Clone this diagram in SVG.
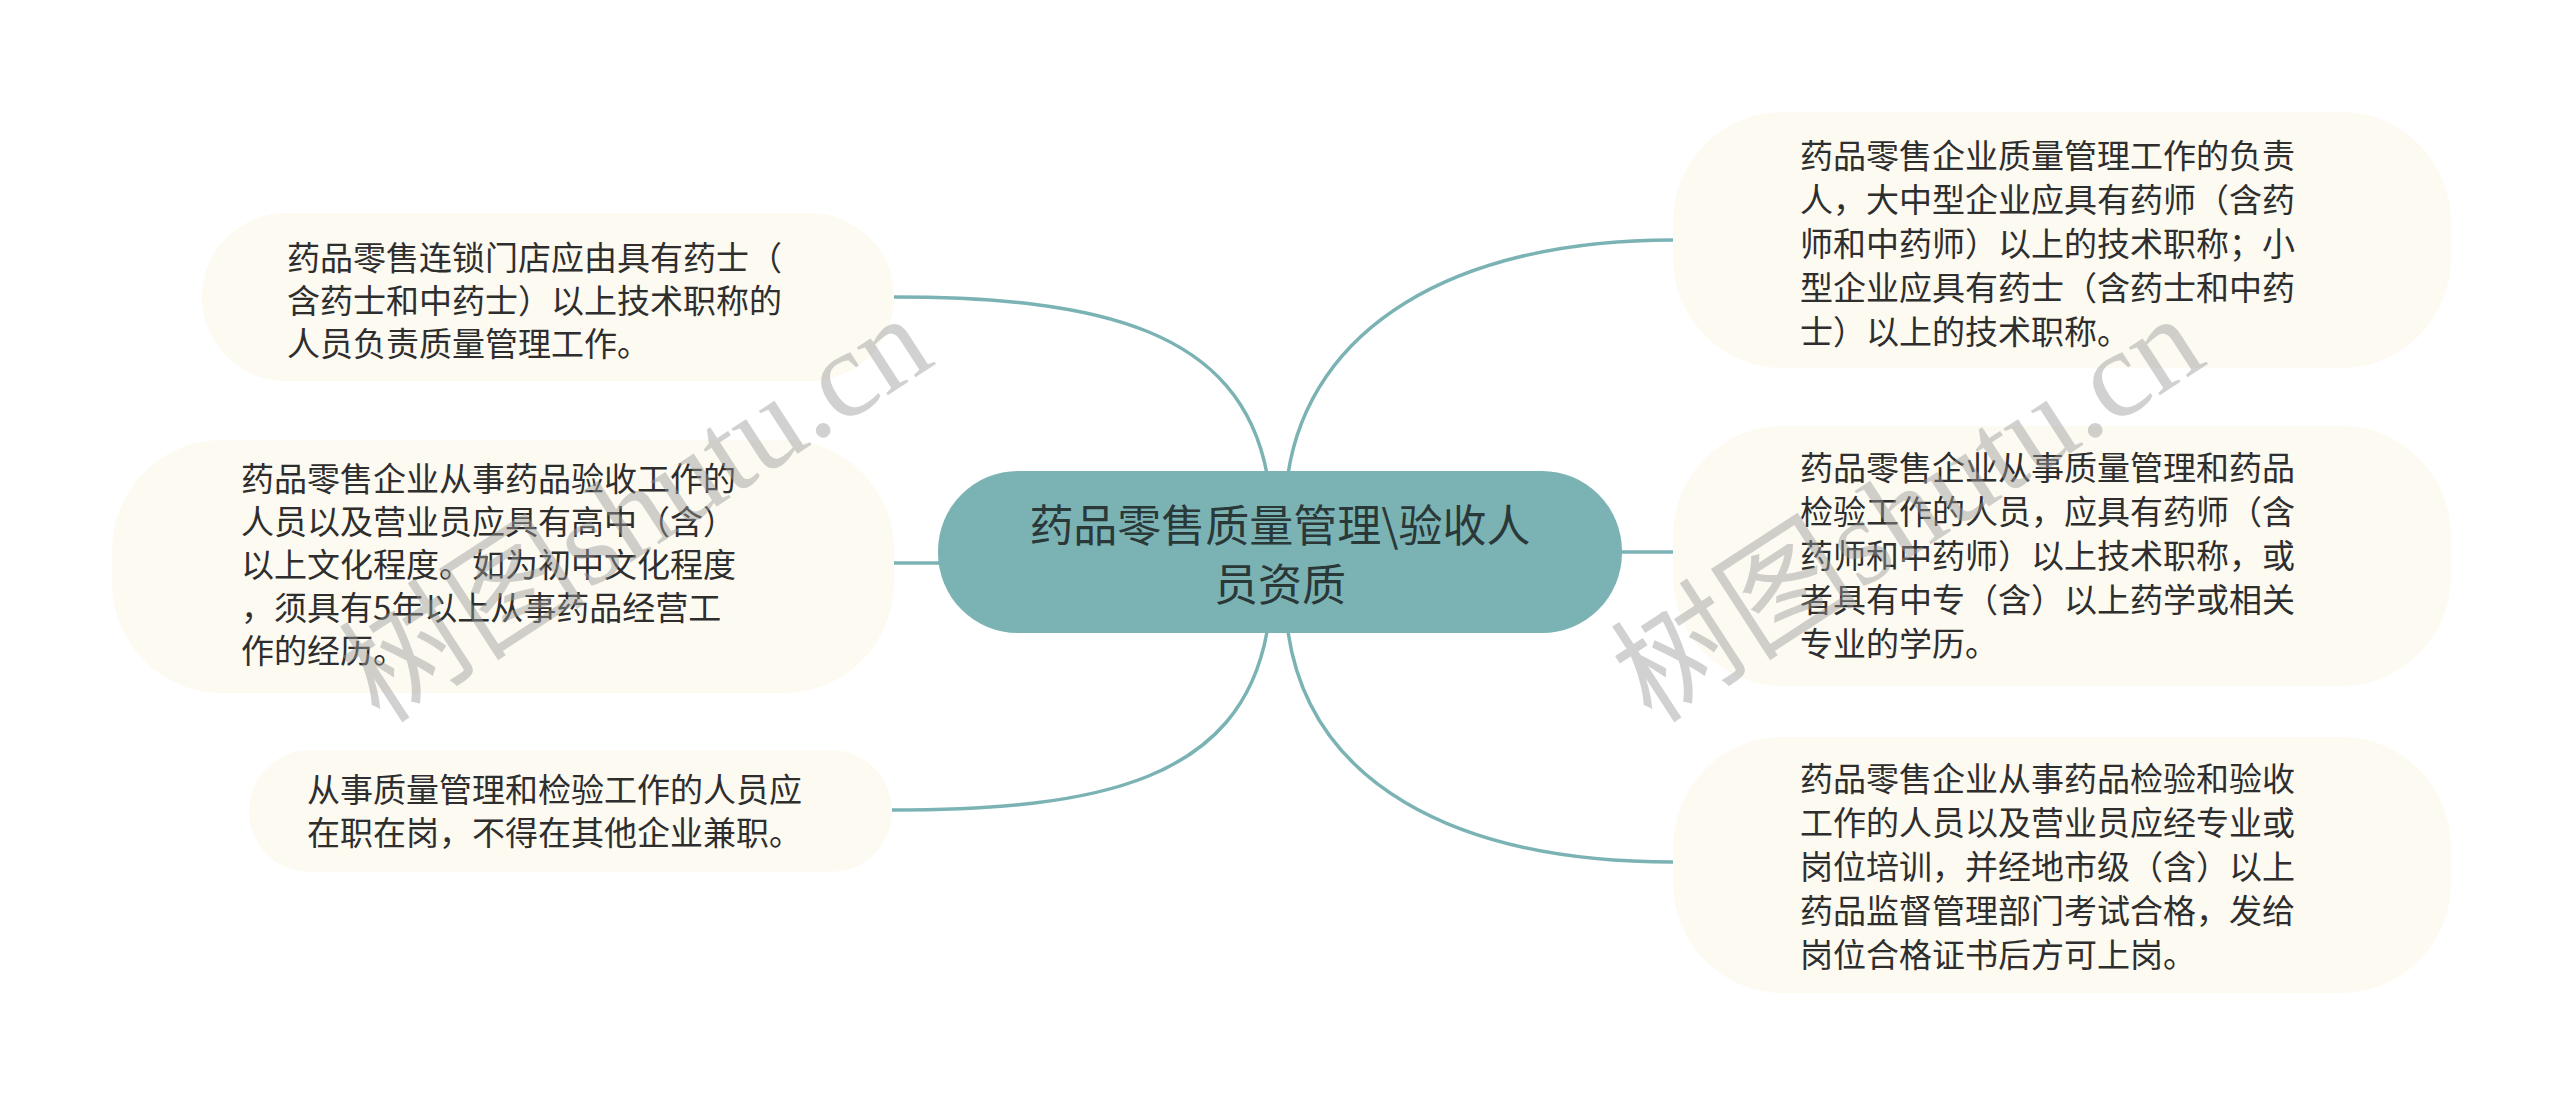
<svg xmlns="http://www.w3.org/2000/svg" width="2560" height="1105" viewBox="0 0 2560 1105">
<style>
.bg{fill:#ffffff}
.node rect{fill:#FCFAF1}
.node text{font-family:"Noto Sans CJK SC","Noto Sans",sans-serif;font-size:33px;fill:#2e2e2e;dominant-baseline:central}
.root rect{fill:#7BB3B5}
.root text{font-family:"Noto Sans CJK SC","Noto Sans",sans-serif;font-size:44px;fill:#2B3838;text-anchor:middle;dominant-baseline:central}
.conn path{fill:none;stroke:#7BB3B5;stroke-width:3.5}
.wm{font-family:"Liberation Serif","Noto Sans CJK SC",serif;font-size:124px;fill:#9a9a9a;opacity:0.45}
</style>
<rect class="bg" x="0" y="0" width="2560" height="1105"/>
<g id="connectors" class="conn">
<path d="M 1267 474 C 1240 330, 1100 297, 894 297"/>
<path d="M 894 563 L 940 563"/>
<path d="M 1267 632 C 1240 780, 1100 810, 892 810"/>
<path d="M 1288 474 C 1310 330, 1450 240, 1673 240"/>
<path d="M 1620 552 L 1673 552"/>
<path d="M 1288 632 C 1310 780, 1450 862, 1673 862"/>
</g>
<g id="root" class="root">
<rect x="938" y="471" width="684" height="162" rx="80" ry="80"/>
<text x="1280" y="523">药品零售质量管理\验收人</text>
<text x="1280" y="582">员资质</text>
</g>
<g id="node-l1" class="node">
<rect x="202" y="213" width="692" height="168" rx="84" ry="84"/>
<text x="287" y="256">药品零售连锁门店应由具有药士（</text>
<text x="287" y="299">含药士和中药士）以上技术职称的</text>
<text x="287" y="342">人员负责质量管理工作。</text>
</g>
<g id="node-l2" class="node">
<rect x="112" y="440" width="782" height="253" rx="110" ry="110"/>
<text x="241" y="477">药品零售企业从事药品验收工作的</text>
<text x="241" y="520">人员以及营业员应具有高中（含）</text>
<text x="241" y="563">以上文化程度。如为初中文化程度</text>
<text x="241" y="606">，须具有5年以上从事药品经营工</text>
<text x="241" y="649">作的经历。</text>
</g>
<g id="node-l3" class="node">
<rect x="249" y="750" width="643" height="122" rx="61" ry="61"/>
<text x="307" y="788">从事质量管理和检验工作的人员应</text>
<text x="307" y="831">在职在岗，不得在其他企业兼职。</text>
</g>
<g id="node-r1" class="node">
<rect x="1673" y="112" width="778" height="256" rx="110" ry="110"/>
<text x="1800" y="154">药品零售企业质量管理工作的负责</text>
<text x="1800" y="198">人，大中型企业应具有药师（含药</text>
<text x="1800" y="242">师和中药师）以上的技术职称；小</text>
<text x="1800" y="286">型企业应具有药士（含药士和中药</text>
<text x="1800" y="330">士）以上的技术职称。</text>
</g>
<g id="node-r2" class="node">
<rect x="1673" y="426" width="778" height="260" rx="110" ry="110"/>
<text x="1800" y="466">药品零售企业从事质量管理和药品</text>
<text x="1800" y="510">检验工作的人员，应具有药师（含</text>
<text x="1800" y="554">药师和中药师）以上技术职称，或</text>
<text x="1800" y="598">者具有中专（含）以上药学或相关</text>
<text x="1800" y="642">专业的学历。</text>
</g>
<g id="node-r3" class="node">
<rect x="1673" y="737" width="778" height="256" rx="110" ry="110"/>
<text x="1800" y="777">药品零售企业从事药品检验和验收</text>
<text x="1800" y="821">工作的人员以及营业员应经专业或</text>
<text x="1800" y="865">岗位培训，并经地市级（含）以上</text>
<text x="1800" y="909">药品监督管理部门考试合格，发给</text>
<text x="1800" y="953">岗位合格证书后方可上岗。</text>
</g>
<g id="watermarks">
<text class="wm" transform="translate(380 725) rotate(-33)">树图shutu.cn</text>
<text class="wm" transform="translate(1652 725) rotate(-33)">树图shutu.cn</text>
</g>
</svg>
